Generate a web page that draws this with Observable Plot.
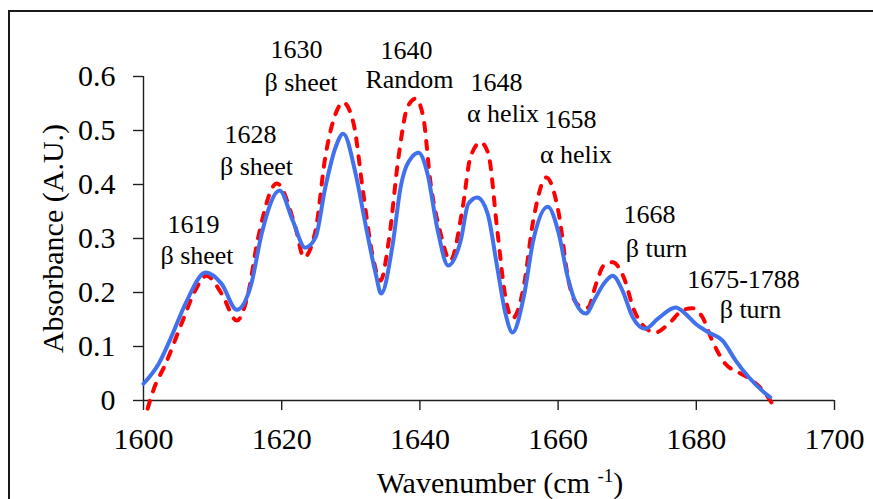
<!DOCTYPE html>
<html>
<head>
<meta charset="utf-8">
<script src="https://cdn.jsdelivr.net/npm/d3@7"></script>
<script src="https://cdn.jsdelivr.net/npm/@observablehq/plot@0.6"></script>
<style>
  html, body { margin: 0; padding: 0; background: #fff; overflow: hidden; width: 873px; height: 499px; }
  #frame { position: absolute; left: 8px; top: 10px; width: 900px; height: 600px; border: 2px solid #1a1a1a; box-sizing: border-box; }
  #chart { position: absolute; left: 0; top: 0; }
  #chart svg { overflow: visible; font-family: 'Liberation Serif', 'Times New Roman', Times, serif !important; font-size: 30px; background: transparent !important; }
  #chart svg text { font-family: 'Liberation Serif', 'Times New Roman', Times, serif !important; }
</style>
</head>
<body>
<div id="frame"></div>
<div id="chart"></div>
<script>
// Wavenumber (cm-1) and absorbance values
const blueX = [1600, 1602.2, 1604, 1606.1, 1609, 1611.3, 1613.5, 1615.6, 1617.1, 1619.7, 1621.6, 1623.4, 1624.9, 1626.3, 1627.8, 1628.9, 1630.7, 1632.1, 1633.6, 1634.4, 1636, 1637.2, 1638.9, 1639.8, 1641.1, 1642.5, 1644.1, 1645.9, 1647, 1648.3, 1649.8, 1651.2, 1652.4, 1653.4, 1655, 1656.4, 1658.5, 1660.1, 1661.4, 1662.6, 1664, 1665.4, 1666.6, 1667.9, 1669.3, 1670.8, 1672.6, 1674.5, 1677, 1678.4, 1679.9, 1681.8, 1683.8, 1685.7, 1687.6, 1690, 1690.7];
const blueY = [0.031, 0.068, 0.117, 0.18, 0.237, 0.216, 0.168, 0.216, 0.309, 0.389, 0.333, 0.283, 0.302, 0.394, 0.469, 0.494, 0.42, 0.328, 0.235, 0.198, 0.284, 0.394, 0.452, 0.459, 0.42, 0.32, 0.25, 0.296, 0.364, 0.376, 0.346, 0.246, 0.16, 0.126, 0.19, 0.296, 0.359, 0.309, 0.228, 0.18, 0.161, 0.19, 0.216, 0.231, 0.204, 0.154, 0.133, 0.152, 0.172, 0.161, 0.142, 0.126, 0.111, 0.074, 0.043, 0.013, 0.006];

const redX = [1600.6, 1601.4, 1603.2, 1605.5, 1607.5, 1609.1, 1611.3, 1613.5, 1615, 1616.6, 1619.3, 1622, 1623.2, 1624.9, 1626.3, 1627.8, 1628.9, 1630.4, 1631.7, 1633.1, 1634.3, 1635.5, 1636.9, 1638.2, 1639.4, 1640.5, 1641.5, 1643, 1644.4, 1646.2, 1647.3, 1648.8, 1649.9, 1651.2, 1652.4, 1653.4, 1655, 1656.4, 1658.3, 1660.1, 1661.5, 1663, 1664.3, 1665.5, 1666.6, 1667.9, 1669.5, 1671, 1672.6, 1674.1, 1676, 1678, 1679.4, 1680.9, 1682.3, 1684.2, 1686.1, 1688.1, 1690, 1691];
const redY = [-0.015, 0.018, 0.068, 0.142, 0.204, 0.231, 0.198, 0.148, 0.19, 0.302, 0.402, 0.32, 0.265, 0.315, 0.45, 0.531, 0.552, 0.513, 0.394, 0.272, 0.222, 0.296, 0.45, 0.543, 0.559, 0.524, 0.407, 0.309, 0.259, 0.358, 0.45, 0.478, 0.457, 0.315, 0.19, 0.152, 0.209, 0.333, 0.413, 0.346, 0.222, 0.176, 0.172, 0.216, 0.25, 0.256, 0.228, 0.167, 0.135, 0.126, 0.142, 0.167, 0.171, 0.154, 0.111, 0.068, 0.052, 0.037, 0.013, -0.006];

// Tick values and labels
const xTicks = [1600, 1620, 1640, 1660, 1680, 1700];
const yTicks = [0, 0.1, 0.2, 0.3, 0.4, 0.5, 0.6];
const yTickLabels = ["0", "0.1", "0.2", "0.3", "0.4", "0.5", "0.6"];

// Peak annotations (number line and assignment line), anchored in data units
const annotNums = ["1619", "1628", "1630", "1640", "1648", "1658", "1668", "1675-1788"];
const annotNumX = [1607.24, 1615.48, 1622.14, 1638.06, 1651.09, 1661.79, 1673.23, 1686.83];
const annotNumY = [0.311, 0.476, 0.635, 0.633, 0.574, 0.504, 0.328, 0.209];
const annotNames = ["β sheet", "β sheet", "β sheet", "Random", "α helix", "α helix", "β turn", "β turn"];
const annotNameX = [1607.74, 1616.35, 1622.79, 1638.49, 1652.03, 1662.59, 1674.24, 1687.84];
const annotNameY = [0.2537, 0.4167, 0.574, 0.578, 0.515, 0.439, 0.265, 0.152];

const xLabel = "Wavenumber (cm -1)";
const yLabel = "Absorbance (A.U.)";

const blue = blueX.map((x, i) => ({x, y: blueY[i]}));
const red = redX.map((x, i) => ({x, y: redY[i]}));
const nums = annotNums.map((t, i) => ({t, x: annotNumX[i], y: annotNumY[i]}));
const names = annotNames.map((t, i) => ({t, x: annotNameX[i], y: annotNameY[i]}));

const serif = "Liberation Serif, Times New Roman, Times, serif";
const axisColor = "#1f1f1f";

const chart = Plot.plot({
  width: 873,
  height: 499,
  marginLeft: 143,
  marginRight: 39,
  marginTop: 76,
  marginBottom: 99,
  x: { domain: [1600, 1700], ticks: xTicks, tickSize: 10, tickPadding: 17, tickFormat: d => String(d), label: null },
  y: { domain: [0, 0.6], ticks: yTicks, tickSize: 10, tickPadding: 18, tickFormat: d => yTickLabels[yTicks.indexOf(d)], label: null },
  marks: [
    Plot.ruleY([0], { stroke: axisColor, strokeWidth: 1.4 }),
    Plot.ruleX([1600], { stroke: axisColor, strokeWidth: 1.4 }),
    Plot.line(red, { x: "x", y: "y", stroke: "#ff0000", strokeWidth: 4, strokeDasharray: "8,10", strokeLinecap: "round", curve: "monotone-x" }),
    Plot.line(blue, { x: "x", y: "y", stroke: "#4271ee", strokeWidth: 4, curve: "monotone-x" }),
    Plot.text(nums, { x: "x", y: "y", text: "t", fontSize: 26, fontFamily: serif, lineAnchor: "bottom", textAnchor: "middle", fill: "#000" }),
    Plot.text(names, { x: "x", y: "y", text: "t", fontSize: 26, fontFamily: serif, lineAnchor: "bottom", textAnchor: "middle", fill: "#000" }),
    Plot.text([xLabel], { text: d => d, frameAnchor: "bottom", dx: 11, dy: 92, lineAnchor: "bottom", textAnchor: "middle", fontSize: 30, fontFamily: serif, fill: "#000" }),
    Plot.text([yLabel], { text: d => d, frameAnchor: "left", dx: -81, rotate: -90, lineAnchor: "bottom", textAnchor: "middle", fontSize: 30, fontFamily: serif, fill: "#000" })
  ]
});

document.getElementById("chart").appendChild(chart);

// Axis tick labels: serif, 30px, black
d3.select(chart).selectAll("g[aria-label='x-axis tick label'], g[aria-label='y-axis tick label']")
  .attr("font-size", 30).attr("font-family", serif).attr("fill", "#000");

// Render the "-1" of the x label as a superscript
d3.select(chart).selectAll("text").each(function () {
  if (this.textContent === xLabel) {
    const t = d3.select(this);
    t.text(null);
    t.append("tspan").text("Wavenumber (cm ");
    t.append("tspan").attr("font-size", "19px").attr("dy", "-11").text("-1");
    t.append("tspan").attr("dy", "11").text(")");
  }
});
d3.select(chart).selectAll("g[aria-label='x-axis tick'] path, g[aria-label='y-axis tick'] path").attr("stroke-width", 1.4).attr("stroke", axisColor);
</script>
</body>
</html>
